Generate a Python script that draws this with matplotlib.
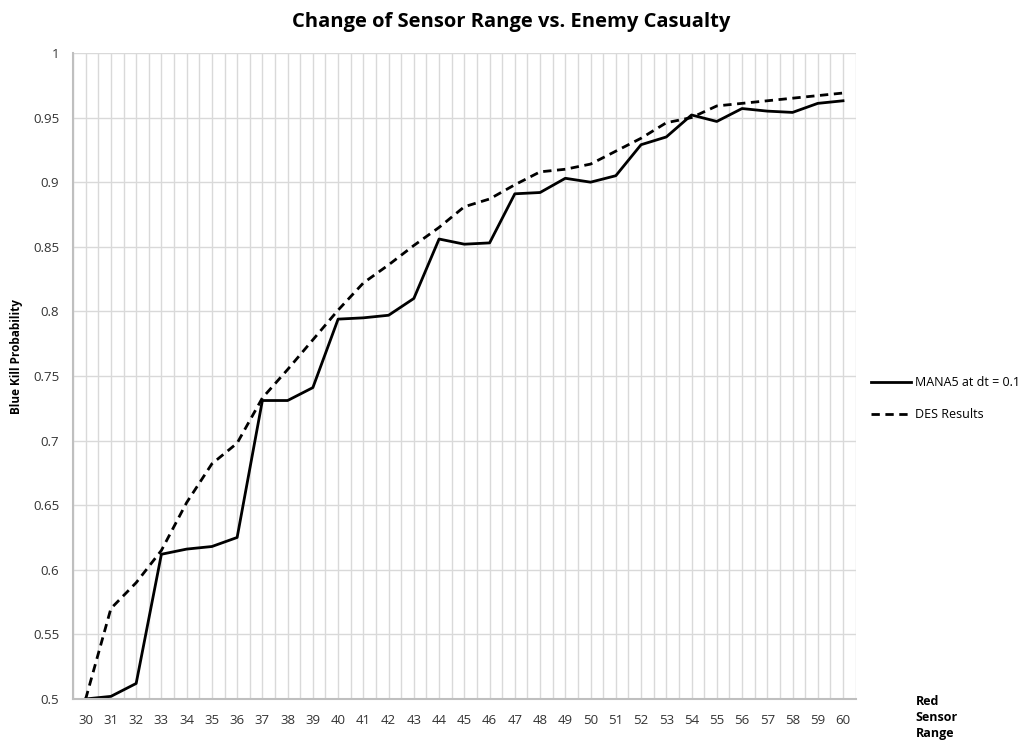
import matplotlib.pyplot as plt
import numpy as np

# sensor range values (categories)
sensor_range = list(range(30, 61))

mana5 = [0.500, 0.502, 0.512, 0.612, 0.616, 0.618, 0.625, 0.731, 0.731, 0.741,
         0.794, 0.795, 0.797, 0.810, 0.856, 0.852, 0.853, 0.891, 0.892, 0.903,
         0.900, 0.905, 0.929, 0.935, 0.952, 0.947, 0.957, 0.955, 0.954, 0.961,
         0.963]

des = [0.500, 0.570, 0.590, 0.615, 0.652, 0.682, 0.698, 0.733, 0.755, 0.778,
       0.801, 0.822, 0.836, 0.851, 0.865, 0.881, 0.887, 0.898, 0.908, 0.910,
       0.914, 0.924, 0.934, 0.946, 0.950, 0.959, 0.961, 0.963, 0.965, 0.967,
       0.969]

plt.rcParams['font.family'] = ['Open Sans', 'DejaVu Sans']

fig = plt.figure(figsize=(10.23, 7.42), dpi=100)
ax = fig.add_axes([0.0714, 0.058, 0.765, 0.8706])

ax.plot(sensor_range, mana5, color='black', lw=2, label='MANA5 at dt = 0.1')
ax.plot(sensor_range, des, color='black', lw=2, ls=(0, (3, 2)), label='DES Results')

ax.set_xlim(29.5, 60.5)
ax.set_ylim(0.5, 1.0)
ax.set_xticks(sensor_range)
ax.set_xticklabels([str(v) for v in sensor_range])
yt = np.arange(0.5, 1.0001, 0.05)
ax.set_yticks(yt)
ax.set_yticklabels(['0.5', '0.55', '0.6', '0.65', '0.7', '0.75', '0.8', '0.85',
                    '0.9', '0.95', '1'])
ax.set_xticks(np.arange(29.5, 61, 1), minor=True)
ax.tick_params(axis='both', which='both', length=0, labelsize=9.5,
               labelcolor='#333333')
ax.tick_params(axis='x', pad=11)
ax.tick_params(axis='y', pad=10)

ax.grid(True, which='both', axis='x', color='#d9d9d9', lw=1)
ax.grid(True, which='major', axis='y', color='#d9d9d9', lw=1)
ax.set_axisbelow(True)
for s in ['top', 'right']:
    ax.spines[s].set_visible(False)
for s in ['left', 'bottom']:
    ax.spines[s].set_color('#bfbfbf')
    ax.spines[s].set_linewidth(1.5)

fig.text(0.5, 0.971, 'Change of Sensor Range vs. Enemy Casualty', ha='center',
         va='center', fontsize=14.5, fontweight='bold')
fig.text(0.016, 0.52, 'Blue Kill Probability', rotation=90, ha='center',
         va='center', fontsize=8.5, fontweight='bold')
fig.text(0.895, 0.033, 'Red\nSensor\nRange', ha='left', va='center',
         fontsize=9, fontweight='bold', linespacing=1.3)

ax.legend(loc='center left', bbox_to_anchor=(1.005, 0.465), frameon=False,
          fontsize=9, handlelength=3.2, handletextpad=0.3, labelspacing=1.5)

fig.savefig('out.png', dpi=100)
